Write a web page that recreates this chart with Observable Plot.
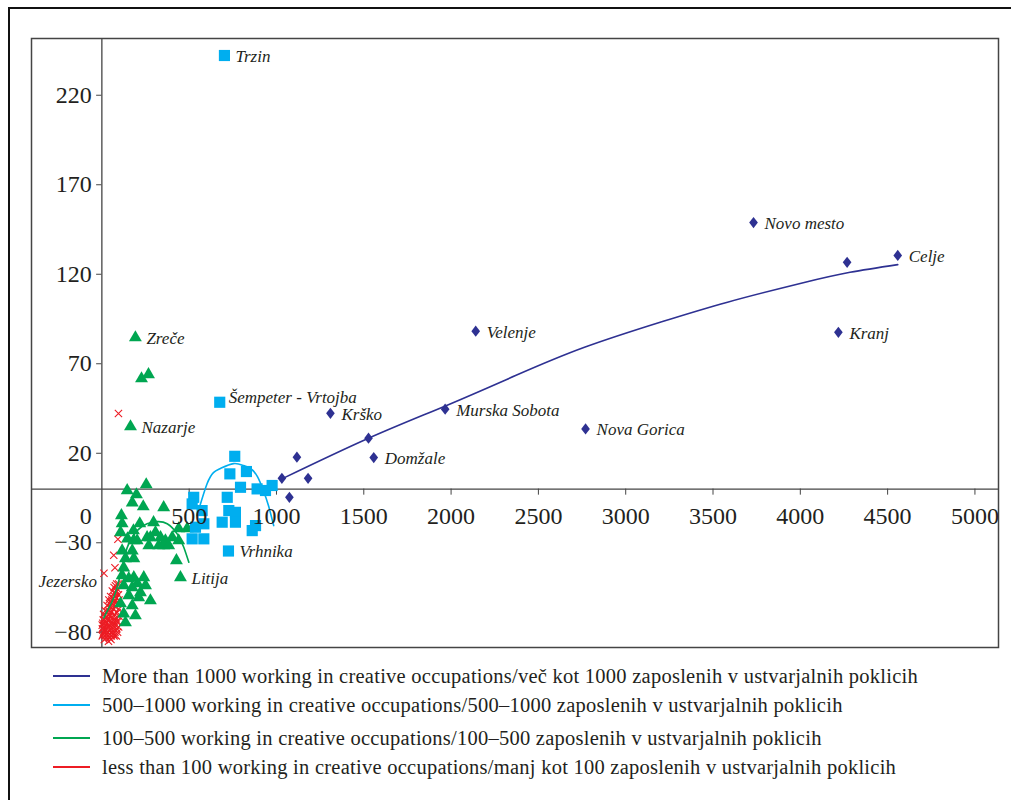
<!DOCTYPE html>
<html><head><meta charset="utf-8">
<script src="https://cdn.jsdelivr.net/npm/d3@7"></script>
<script src="https://cdn.jsdelivr.net/npm/@observablehq/plot@0.6"></script>
<style>
body{margin:0;background:#fff;font-family:"Liberation Serif",serif;}
#wrap{position:relative;width:1011px;height:800px;overflow:hidden;background:#fff;}
#border{position:absolute;left:8px;top:7px;width:1100px;height:900px;border-left:2px solid #111;border-top:2px solid #111;box-sizing:border-box;}
#chart{position:absolute;left:0;top:0;}
.leg{position:absolute;left:53px;height:24px;display:flex;align-items:center;font-size:20.5px;letter-spacing:0.25px;color:#231f20;white-space:nowrap;font-family:"Liberation Serif",serif;}
.leg .l{display:inline-block;width:37px;height:2px;margin-right:12px;flex:none;}
</style></head><body>
<div id="wrap"><div id="border"></div><div id="chart"></div><div id="legend"></div></div>
<script>
// ---- series metadata ----
const seriesNames = [
  "More than 1000 working in creative occupations/več kot 1000 zaposlenih v ustvarjalnih poklicih",
  "500–1000 working in creative occupations/500–1000 zaposlenih v ustvarjalnih poklicih",
  "100–500 working in creative occupations/100–500 zaposlenih v ustvarjalnih poklicih",
  "less than 100 working in creative occupations/manj kot 100 zaposlenih v ustvarjalnih poklicih"
];
const seriesColors = ["#2e3192", "#00aeef", "#00a651", "#ed1c24"];

// ---- axis ticks ----
const xTicks = [0, 500, 1000, 1500, 2000, 2500, 3000, 3500, 4000, 4500, 5000];
const yTicks = [-80, -30, 20, 70, 120, 170, 220];

// ---- points: [x, y, label] ----
const over1000 = [
  [4558, 130.5, "Celje"], [4268, 126.7, ""], [3732, 148.9, "Novo mesto"], [4218, 87.6, "Kranj"],
  [2141, 88.2, "Velenje"], [2770, 33.6, "Nova Gorica"], [1966, 44.6, "Murska Sobota"],
  [1309, 42.3, "Krško"], [1557, 17.6, "Domžale"], [1527, 28.4, ""], [1117, 17.8, ""],
  [1031, 6.0, ""], [1181, 6.0, ""], [1074, -4.6, ""]
];
const from500to1000 = [
  [702, 242.2, "Trzin"], [675, 48.5, "Šempeter - Vrtojba"], [725, -34.6, "Vrhnika"],
  [761, 18.3, ""], [733, 8.5, ""], [828, 9.8, ""], [794, 1.0, ""], [889, 0.1, ""],
  [937, -0.8, ""], [975, 2.0, ""], [718, -4.6, ""], [526, -4.6, ""], [517, -8.3, ""],
  [574, -12, ""], [727, -12, ""], [765, -13, ""], [689, -18.5, ""], [765, -18.5, ""],
  [584, -19.4, ""], [880, -20.4, ""], [861, -23.2, ""], [517, -27.8, ""], [584, -27.8, ""],
  [536, -21.3, ""]
];
const from100to500 = [
  [192, 84.6, "Zreče"], [227, 61.7, ""], [267, 64.0, ""], [164, 34.9, "Nazarje"],
  [254, 2.5, ""], [145, -0.8, ""], [198, -3.1, ""], [174, -7.6, ""], [237, -9.8, ""],
  [354, -10.3, ""], [112, -14.8, ""], [116, -19.3, ""], [217, -19.3, ""], [181, -23.2, ""],
  [107, -24.3, ""], [259, -27.1, ""], [278, -27.1, ""], [307, -24.3, ""], [336, -27.1, ""],
  [364, -28.8, ""], [326, -31.6, ""], [354, -31.6, ""], [383, -31.6, ""], [269, -31.6, ""],
  [403, -27.1, ""], [440, -22.1, ""], [440, -28.8, ""], [489, -22.1, ""], [183, -28.8, ""],
  [116, -34.4, ""], [174, -34.4, ""], [135, -38.8, ""], [183, -38.8, ""], [427, -39.9, ""],
  [125, -43.9, ""], [116, -48.3, ""], [154, -50.0, ""], [183, -49.4, ""], [240, -49.4, ""],
  [450, -49.4, "Litija"], [125, -53.9, ""], [174, -55.0, ""], [221, -57.8, ""], [250, -53.9, ""],
  [154, -59.5, ""], [211, -60.6, ""], [107, -64.0, ""], [174, -65.1, ""], [125, -69.6, ""],
  [192, -70.7, ""], [135, -74.6, ""], [296, -18.7, ""], [147, -27.7, ""], [202, -28.8, ""],
  [278, -62.3, ""], [204, -52.8, ""]
];
const under100 = [
  [95, 42.2, ""], [92, -28, ""], [68, -37, ""], [75, -44, ""], [12, -47, "Jezersko"],
  [85, -53, ""], [70, -55, ""], [90, -56, ""], [60, -57, ""], [78, -58, ""], [95, -59, ""],
  [50, -60, ""], [66, -61, ""], [84, -61, ""], [40, -62, ""], [72, -63, ""], [58, -64, ""],
  [90, -64, ""], [30, -65, ""], [48, -66, ""], [80, -66, ""], [64, -67, ""], [20, -68, ""],
  [38, -68, ""], [55, -69, ""], [88, -69, ""], [72, -70, ""], [10, -70, ""], [28, -71, ""],
  [45, -71, ""], [62, -72, ""], [80, -72, ""], [15, -73, ""], [35, -73, ""], [52, -74, ""],
  [70, -74, ""], [92, -74, ""], [5, -75, ""], [25, -75, ""], [42, -76, ""], [60, -76, ""],
  [78, -76, ""], [12, -77, ""], [32, -77, ""], [50, -78, ""], [68, -78, ""], [86, -78, ""],
  [3, -78, ""], [20, -79, ""], [40, -79, ""], [58, -80, ""], [75, -80, ""], [10, -80, ""],
  [28, -81, ""], [46, -81, ""], [64, -81, ""], [18, -82, ""], [36, -82, ""], [54, -82, ""],
  [6, -81, ""], [82, -82, ""], [44, -83, ""], [26, -83, ""],
  [78, -54, ""], [96, -53, ""], [82, -57, ""], [98, -62, ""], [74, -60, ""], [56, -62, ""],
  [96, -67, ""], [44, -64, ""], [34, -69, ""], [98, -71, ""], [84, -74, ""], [22, -72, ""],
  [8, -73, ""], [96, -77, ""], [2, -76, ""], [16, -75, ""], [64, -75, ""], [90, -80, ""],
  [34, -80, ""], [2, -82, ""], [70, -82, ""], [14, -84, ""], [52, -84, ""], [38, -85, ""]
];

// ---- trend lines: [x, y] ----
const trend1000 = [[1031, 5.7], [1527, 28.4], [1971, 46.6], [2369, 63.4], [2764, 79.2], [3211, 93.6], [3583, 104.4], [4005, 115.0], [4285, 121.1], [4558, 125.4]];
const trend500 = [[559, -10.2], [603, 3.1], [639, 9.2], [679, 11.5], [754, 14.2], [811, 13.1], [851, 11.5], [891, 7.0], [925, -0.8], [954, -9.2], [984, -20.4]];
const trend100 = [[11, -72], [38, -66.8], [68, -60.6], [107, -47.2], [145, -32.7], [202, -23.2], [259, -19.4], [317, -18.2], [374, -19.4], [431, -25], [469, -32.5], [498, -40.9]];
const trendUnder100 = [[3, -80], [30, -75], [60, -68], [95, -58]];

// ---- symbols ----
const tallDiamond = {draw(ctx, size) {
  const r = Math.sqrt(size) * 0.62625;
  ctx.moveTo(0, -r * 1.1); ctx.lineTo(r * 0.85, 0); ctx.lineTo(0, r * 1.1); ctx.lineTo(-r * 0.85, 0); ctx.closePath();
}};

const fmt = d => d < 0 ? "\u2212" + Math.abs(d) : String(d);
const ink = "#231f20";
const labelOpts = {x: d => d[0], y: d => d[1], text: d => d[2], textAnchor: "start", fontStyle: "italic", fontSize: 17, fill: ink, dx: 11, dy: 1};
const isPlain = d => d[2] && d[2] !== "Jezersko" && d[2] !== "Šempeter - Vrtojba";
const allPts = [...over1000, ...from500to1000, ...from100to500, ...under100];
const tickFont = 24;

const chart = Plot.plot({
  width: 1011, height: 660,
  marginLeft: 31, marginRight: 13, marginTop: 38, marginBottom: 13,
  x: {domain: [-403, 5135], axis: null},
  y: {domain: [-88.5, 251.7], axis: null},
  style: {fontFamily: "'Liberation Serif', serif", background: "transparent", overflow: "visible"},
  marks: [
    Plot.frame({stroke: "#444", strokeWidth: 1.5}),
    Plot.ruleX([0], {stroke: "#444", strokeWidth: 1.3}),
    Plot.ruleY([0], {stroke: "#444", strokeWidth: 1.3}),
    Plot.ruleY(yTicks, {y: d => d, x1: -30, x2: 0, stroke: "#444", strokeWidth: 1}),
    Plot.ruleX(xTicks.filter(d => d > 0), {x: d => d, y1: 0, y2: -3.4, stroke: "#444", strokeWidth: 1}),
    Plot.line(trendUnder100, {x: d => d[0], y: d => d[1], stroke: seriesColors[3], strokeWidth: 1.5, curve: "natural"}),
    Plot.dot(under100, {x: d => d[0], y: d => d[1], symbol: "times", r: 3.4, stroke: seriesColors[3], strokeWidth: 1.1}),
    Plot.dot(from100to500, {x: d => d[0], y: d => d[1], symbol: "triangle", r: 4.8, fill: seriesColors[2], stroke: "none"}),
    Plot.dot(from500to1000, {x: d => d[0], y: d => d[1], symbol: "square", r: 6.3, fill: seriesColors[1], stroke: "none"}),
    Plot.dot(over1000, {x: d => d[0], y: d => d[1], symbol: tallDiamond, r: 4.6, fill: seriesColors[0], stroke: "none"}),
    Plot.line(trend100, {x: d => d[0], y: d => d[1], stroke: seriesColors[2], strokeWidth: 1.6, curve: "natural"}),
    Plot.line(trend500, {x: d => d[0], y: d => d[1], stroke: seriesColors[1], strokeWidth: 1.6, curve: "natural"}),
    Plot.line(trend1000, {x: d => d[0], y: d => d[1], stroke: seriesColors[0], strokeWidth: 1.6, curve: "natural"}),
    Plot.text(allPts.filter(isPlain), labelOpts),
    Plot.text(allPts.filter(d => d[2] === "Šempeter - Vrtojba"), {...labelOpts, dx: 9, dy: -5}),
    Plot.text(allPts.filter(d => d[2] === "Jezersko"), {...labelOpts, textAnchor: "end", dx: -7, dy: 8}),
    Plot.text(yTicks, {x: 0, y: d => d, text: fmt, textAnchor: "end", dx: -10, fontSize: tickFont, fill: ink}),
    Plot.text(xTicks.filter(d => d > 0), {x: d => d, y: 0, text: fmt, textAnchor: "middle", dy: 27, fontSize: tickFont, fill: ink}),
    Plot.text(xTicks.filter(d => d === 0), {x: d => d, y: 0, text: fmt, textAnchor: "end", dx: -10, dy: 27, fontSize: tickFont, fill: ink})
  ]
});
document.getElementById("chart").appendChild(chart);

// ---- legend ----
const legendRowsY = [676, 705, 738, 767];
const leg = document.getElementById("legend");
seriesNames.forEach((name, i) => {
  const row = document.createElement("div");
  row.className = "leg";
  row.style.top = (legendRowsY[i] - 12) + "px";
  const line = document.createElement("span");
  line.className = "l";
  line.style.background = seriesColors[i];
  row.appendChild(line);
  const t = document.createElement("span");
  t.textContent = name;
  row.appendChild(t);
  leg.appendChild(row);
});
</script>
</body></html>
